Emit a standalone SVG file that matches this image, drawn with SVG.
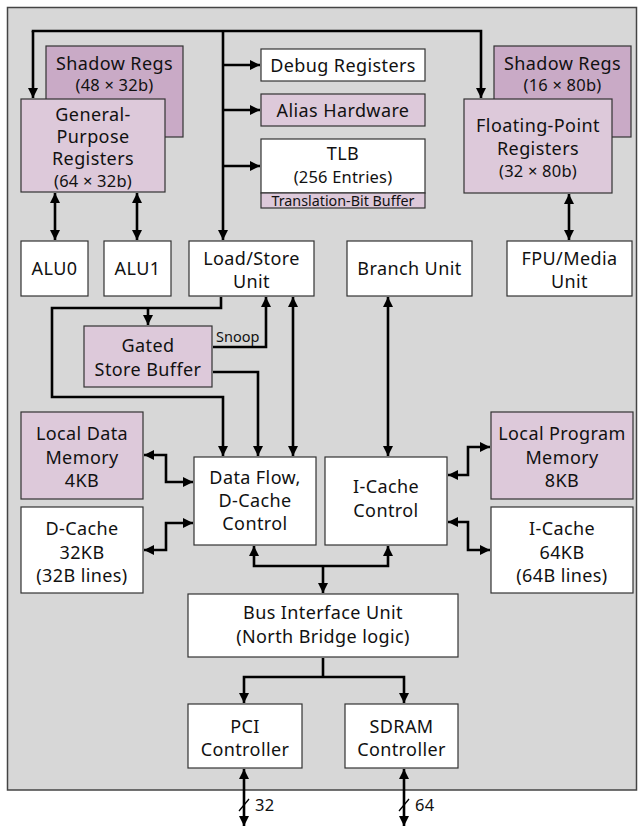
<svg xmlns="http://www.w3.org/2000/svg" width="642" height="827" viewBox="0 0 642 827">
<defs>
<marker id="ah" viewBox="0 0 10 10" refX="10" refY="5" markerWidth="11" markerHeight="10" markerUnits="userSpaceOnUse" orient="auto-start-reverse">
<path d="M0,0 L10,5 L0,10 z" fill="#000"/>
</marker>
<style>
.box{stroke:#333;stroke-width:1.2}
.w{fill:#ffffff}
.p{fill:#ddc9da}
.d{fill:#c9aac6}
text{font-family:"Noto Sans","DejaVu Sans",sans-serif;font-size:18px;letter-spacing:0.4px;fill:#111;text-anchor:middle}
.s{font-size:16.5px;letter-spacing:0.2px}
.t{font-size:14.3px;letter-spacing:0}
.c{fill:none;stroke:#000;stroke-width:2.6}
.a{marker-end:url(#ah)}
.b{marker-start:url(#ah);marker-end:url(#ah)}
</style>
</defs>
<rect x="7.5" y="7.5" width="629" height="782.5" fill="#d7d7d7" stroke="#444" stroke-width="1.5"/>

<g id="connectors">
<path class="c a" d="M33,31 V98"/>
<path class="c a" d="M31.7,31 H481 V98"/>
<path class="c a" d="M223,31 V240"/>
<path class="c a" d="M223,65 H260"/>
<path class="c a" d="M223,110 H260"/>
<path class="c a" d="M223,166 H260"/>
<path class="c b" d="M55,193 V240"/>
<path class="c b" d="M137,193 V240"/>
<path class="c b" d="M569,194 V240"/>
<path class="c a" d="M221,297 V308 H52 V397 H223 V456"/>
<path class="c a" d="M148,308 V325"/>
<path class="c a" d="M213,347 H266 V297"/>
<path class="c a" d="M213,372 H258 V456"/>
<path class="c b" d="M293,297 V456"/>
<path class="c b" d="M388,297 V456"/>
<path class="c b" d="M144,455 H166 V482 H193"/>
<path class="c b" d="M193,523 H166 V550 H144"/>
<path class="c b" d="M448,475 H468 V447 H490"/>
<path class="c b" d="M448,522 H468 V550 H490"/>
<path class="c b" d="M254,546 V566 H388 V546"/>
<path class="c a" d="M323,566 V593"/>
<path class="c" d="M323,658 V677"/>
<path class="c b" d="M244,703 V677 H404 V703"/>
<path class="c b" d="M244,769 V826"/>
<path class="c b" d="M404,769 V826"/>
<path class="c" style="stroke-width:1.3" d="M239,811 L249,799"/>
<path class="c" style="stroke-width:1.3" d="M399,811 L409,799"/>
<text x="216" y="342" style="text-anchor:start;font-size:14.5px;letter-spacing:0">Snoop</text>
<text x="255" y="811" style="text-anchor:start;font-size:16.5px">32</text>
<text x="415" y="811" style="text-anchor:start;font-size:16.5px">64</text>
</g>

<g id="shadow-regs-gp">
<rect class="box d" x="46" y="46" width="137" height="91"/>
<text x="114.5" y="70">Shadow Regs</text>
<text class="s" x="114.5" y="91">(48 × 32b)</text>
</g>
<g id="gp-registers">
<rect class="box p" x="21" y="99" width="144" height="93"/>
<text x="93" y="121">General-</text>
<text x="93" y="143">Purpose</text>
<text x="93" y="165">Registers</text>
<text class="s" x="93" y="187">(64 × 32b)</text>
</g>
<g id="debug-registers">
<rect class="box w" x="261" y="49" width="164" height="32"/>
<text x="343" y="71.5">Debug Registers</text>
</g>
<g id="alias-hardware">
<rect class="box p" x="261" y="94" width="164" height="32"/>
<text x="343" y="116.5">Alias Hardware</text>
</g>
<g id="tlb">
<rect class="box w" x="261" y="139" width="164" height="54"/>
<text x="343" y="160">TLB</text>
<text class="s" x="343" y="183">(256 Entries)</text>
</g>
<g id="translation-bit-buffer">
<rect class="box p" x="261" y="193" width="164" height="15"/>
<text class="t" x="343" y="205.5">Translation-Bit Buffer</text>
</g>
<g id="shadow-regs-fp">
<rect class="box d" x="494" y="46" width="137" height="91"/>
<text x="562.5" y="70">Shadow Regs</text>
<text class="s" x="562.5" y="91">(16 × 80b)</text>
</g>
<g id="fp-registers">
<rect class="box p" x="464" y="99" width="148" height="94"/>
<text x="538" y="132">Floating-Point</text>
<text x="538" y="155">Registers</text>
<text class="s" x="538" y="177">(32 × 80b)</text>
</g>
<g id="alu0">
<rect class="box w" x="21" y="241" width="67" height="55"/>
<text x="54.5" y="275">ALU0</text>
</g>
<g id="alu1">
<rect class="box w" x="104" y="241" width="67" height="55"/>
<text x="137.5" y="275">ALU1</text>
</g>
<g id="load-store-unit">
<rect class="box w" x="189" y="241" width="125" height="55"/>
<text x="251.5" y="265">Load/Store</text>
<text x="251.5" y="288">Unit</text>
</g>
<g id="branch-unit">
<rect class="box w" x="347" y="241" width="125" height="55"/>
<text x="409.5" y="274.5">Branch Unit</text>
</g>
<g id="fpu-media-unit">
<rect class="box w" x="507" y="241" width="125" height="55"/>
<text x="569.5" y="265">FPU/Media</text>
<text x="569.5" y="288">Unit</text>
</g>
<g id="gated-store-buffer">
<rect class="box p" x="84" y="326" width="128" height="61"/>
<text x="148" y="352">Gated</text>
<text x="148" y="376">Store Buffer</text>
</g>
<g id="local-data-memory">
<rect class="box p" x="21" y="412" width="122" height="87"/>
<text x="82" y="440">Local Data</text>
<text x="82" y="463.5">Memory</text>
<text x="82" y="487">4KB</text>
</g>
<g id="d-cache">
<rect class="box w" x="21" y="507" width="122" height="86"/>
<text x="82" y="535">D-Cache</text>
<text x="82" y="558.5">32KB</text>
<text x="82" y="582">(32B lines)</text>
</g>
<g id="data-flow">
<rect class="box w" x="194" y="457" width="122" height="88"/>
<text x="255" y="484">Data Flow,</text>
<text x="255" y="507">D-Cache</text>
<text x="255" y="530">Control</text>
</g>
<g id="i-cache-control">
<rect class="box w" x="325" y="457" width="122" height="88"/>
<text x="386" y="493">I-Cache</text>
<text x="386" y="517">Control</text>
</g>
<g id="local-program-memory">
<rect class="box p" x="491" y="412" width="142" height="87"/>
<text x="562" y="440">Local Program</text>
<text x="562" y="463.5">Memory</text>
<text x="562" y="487">8KB</text>
</g>
<g id="i-cache">
<rect class="box w" x="491" y="507" width="142" height="86"/>
<text x="562" y="535">I-Cache</text>
<text x="562" y="558.5">64KB</text>
<text x="562" y="582">(64B lines)</text>
</g>
<g id="bus-interface-unit">
<rect class="box w" x="188" y="594" width="270" height="63"/>
<text x="323" y="619">Bus Interface Unit</text>
<text x="323" y="643">(North Bridge logic)</text>
</g>
<g id="pci-controller">
<rect class="box w" x="188" y="704" width="114" height="64"/>
<text x="245" y="733">PCI</text>
<text x="245" y="756">Controller</text>
</g>
<g id="sdram-controller">
<rect class="box w" x="345" y="704" width="113" height="64"/>
<text x="401.5" y="733">SDRAM</text>
<text x="401.5" y="756">Controller</text>
</g>
</svg>
